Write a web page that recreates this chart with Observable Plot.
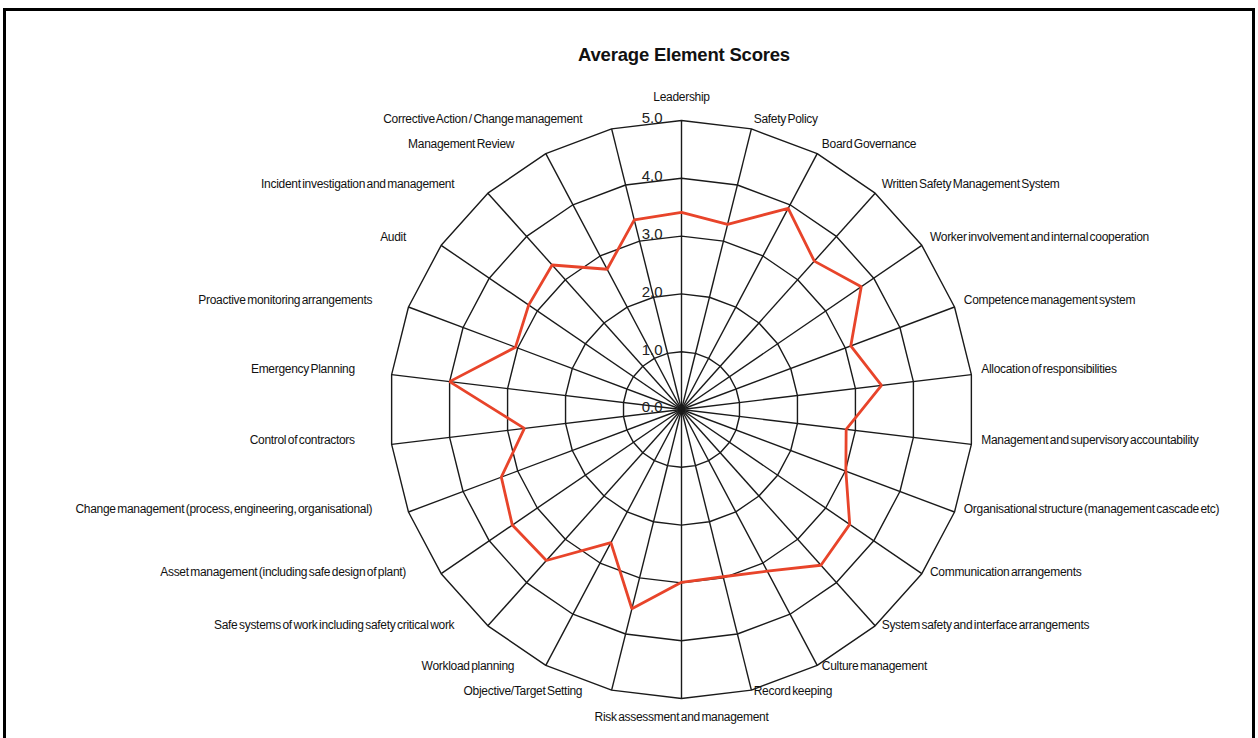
<!DOCTYPE html>
<html>
<head>
<meta charset="utf-8">
<script src="https://cdn.jsdelivr.net/npm/d3@7"></script>
<script src="https://cdn.jsdelivr.net/npm/@observablehq/plot@0.6"></script>
<style>
  body { margin: 0; background: #fff; font-family: "Liberation Sans", Arial, sans-serif; }
  #wrap { position: relative; width: 1258px; height: 738px; overflow: hidden; background: #fff; }
  #frame { position: absolute; left: 3px; top: 8px; width: 1252px; height: 780px; border: 3px solid #000; box-sizing: border-box; }
  #title { position: absolute; top: 44px; left: 684px; transform: translateX(-50%); font-weight: bold; font-size: 18.5px; letter-spacing: -0.2px; white-space: nowrap; color: #111; }
  #chart { position: absolute; left: 0; top: 0; }
</style>
</head>
<body>
<div id="wrap">
  <div id="frame"></div>
  <div id="chart"></div>
  <div id="title">Average Element Scores</div>
</div>
<script>
const categories = [
  "Leadership",
  "Safety Policy",
  "Board Governance",
  "Written Safety Management System",
  "Worker involvement and internal cooperation",
  "Competence management system",
  "Allocation of responsibilities",
  "Management and supervisory accountability",
  "Organisational structure (management cascade etc)",
  "Communication arrangements",
  "System safety and interface arrangements",
  "Culture management",
  "Record keeping",
  "Risk assessment and management",
  "Objective/Target Setting",
  "Workload planning",
  "Safe systems of work including safety critical work",
  "Asset management (including safe design of plant)",
  "Change management (process, engineering, organisational)",
  "Control of contractors",
  "Emergency Planning",
  "Proactive monitoring arrangements",
  "Audit",
  "Incident investigation and management",
  "Management Review",
  "Corrective Action / Change management"
];
const scores = [
  3.41, 3.30, 3.93, 3.43, 3.74, 3.10, 3.45, 2.84, 3.01, 3.50,
  3.60, 3.16, 2.98, 2.99, 3.55, 2.60, 3.49, 3.52, 3.30, 2.71,
  4.00, 3.04, 3.18, 3.34, 2.74, 3.38
];
const tickValues = [0, 1, 2, 3, 4, 5];
const tickLabels = ["0.0", "1.0", "2.0", "3.0", "4.0", "5.0"];

const n = categories.length;
const maxV = 5;
const ang = i => (i * 2 * Math.PI) / n;

// ring polygons
const rings = [];
for (const lv of tickValues.slice(1)) {
  for (let i = 0; i <= n; i++) rings.push({lv, i: i % n});
}
const series = scores.map((v, i) => ({v, i})).concat([{v: scores[0], i: 0}]);
const cats = categories.map((name, i) => ({name, i}));
const ticks = tickValues.map((v, k) => ({v, label: tickLabels[k]}));

const cx = 681, cy = 409, ux = 58.4, uy = 57.8, W = 1258, H = 738;
const rLabX = 5.17, rLabY = 5.10;

const lblStyle = {fontSize: 12, fill: "#111", fontFamily: "Liberation Sans, Arial, sans-serif"};
const rightCats = cats.filter(d => d.i > 0 && d.i < n / 2);
const leftCats = cats.filter(d => d.i > n / 2);
const topCat = cats.filter(d => d.i === 0);
const botCat = cats.filter(d => d.i === n / 2);

const chart = Plot.plot({
  width: W,
  height: H,
  margin: 0,
  style: {fontFamily: "Liberation Sans, Arial, sans-serif", background: "transparent", overflow: "visible"},
  x: {domain: [-cx / ux, (W - cx) / ux], axis: null},
  y: {domain: [-(H - cy) / uy, cy / uy], axis: null},
  marks: [
    Plot.link(cats, {
      x1: 0, y1: 0,
      x2: d => maxV * Math.sin(ang(d.i)),
      y2: d => maxV * Math.cos(ang(d.i)),
      stroke: "#1a1a1a", strokeWidth: 1.4
    }),
    Plot.line(rings, {
      x: d => d.lv * Math.sin(ang(d.i)),
      y: d => d.lv * Math.cos(ang(d.i)),
      z: "lv", stroke: "#1a1a1a", strokeWidth: 1.4
    }),
    Plot.line(series, {
      x: d => d.v * Math.sin(ang(d.i)),
      y: d => d.v * Math.cos(ang(d.i)),
      stroke: "#e8442a", strokeWidth: 2.8, strokeLinejoin: "miter"
    }),
    Plot.text(ticks, {
      x: 0, y: "v", text: "label", textAnchor: "end", dx: -19, dy: -2,
      fontSize: 15, fill: "#222"
    }),
    Plot.text(rightCats, {
      x: d => rLabX * Math.sin(ang(d.i)),
      y: d => rLabY * Math.cos(ang(d.i)),
      text: "name", textAnchor: "start", dy: -4.5, ...lblStyle
    }),
    Plot.text(leftCats, {
      x: d => rLabX * Math.sin(ang(d.i)),
      y: d => rLabY * Math.cos(ang(d.i)),
      text: "name", textAnchor: "end", dx: -27, dy: -4.5, ...lblStyle
    }),
    Plot.text(topCat, {
      x: 0, y: maxV, text: "name", textAnchor: "middle", dy: -23, ...lblStyle
    }),
    Plot.text(botCat, {
      x: 0, y: -maxV, text: "name", textAnchor: "middle", dy: 19, ...lblStyle
    })
  ]
});
document.getElementById("chart").appendChild(chart);
// tighter label spacing like the source
chart.querySelectorAll("g[aria-label='text'] text").forEach(t => {
  if (!/^\d\.\d$/.test(t.textContent)) {
    t.style.wordSpacing = "-1.5px";
    t.style.letterSpacing = "-0.3px";
  }
});
</script>
</body>
</html>
